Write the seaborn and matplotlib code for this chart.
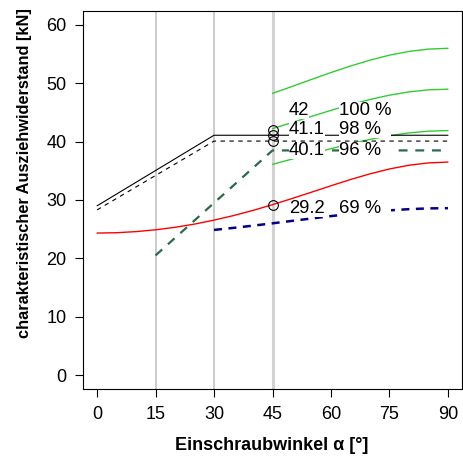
import numpy as np
import pandas as pd
import seaborn as sns
import matplotlib
matplotlib.use("Agg")
import matplotlib.pyplot as plt

# angles in degrees
ANG_FULL = [0, 5, 10, 15, 20, 25, 30, 35, 40, 45, 50, 55, 60, 65, 70, 75, 80, 85, 90]
ANG_45 = [45, 50, 55, 60, 65, 70, 75, 80, 85, 90]
ANG_30 = [30, 35, 40, 45, 50, 55, 60, 65, 70, 75, 80, 85, 90]

# red curve (0..90)
red_vals = [24.33, 24.39, 24.58, 24.89, 25.32, 25.87, 26.55, 27.33, 28.22, 29.20,
            30.25, 31.34, 32.44, 33.51, 34.48, 35.32, 35.96, 36.36, 36.50]
# green curves (45..90)
green_top = [48.28, 49.46, 50.67, 51.85, 52.97, 53.98, 54.83, 55.47, 55.87, 56.00]
green_mid = [42.24, 43.28, 44.33, 45.37, 46.35, 47.23, 47.97, 48.53, 48.88, 49.00]
green_low = [36.12, 37.01, 37.91, 38.80, 39.63, 40.39, 41.02, 41.50, 41.80, 41.90]
# blue dashed (30..90)
blue_vals = [24.87, 25.22, 25.60, 26.00, 26.42, 26.83, 27.24, 27.61, 27.95, 28.22,
             28.43, 28.56, 28.60]
# black polylines
black_x = [0, 30, 90]
black_solid = [29.0, 41.1, 41.1]
black_dash = [28.3, 40.1, 40.1]
# dark green dashed
dgreen_x = [15, 45, 90]
dgreen_vals = [20.5, 38.5, 38.5]

# marked points at 45 deg
pt_vals = [42.0, 41.1, 40.1, 29.2]
pt_labels = ["42", "41.1", "40.1", "29.2"]
pct_labels = ["100 %", "98 %", "96 %", "69 %"]
label_base = [44.6, 41.3, 37.7, 27.8]

vlines = [15, 30, 45]

sns.set_style("white")
plt.rcParams["font.family"] = ["Liberation Sans", "DejaVu Sans"]
plt.rcParams["text.color"] = "black"
plt.rcParams["axes.labelcolor"] = "black"

fig = plt.figure(figsize=(4.64, 4.59), dpi=100)
ax = fig.add_axes([83 / 464, 1 - 389 / 459, 379 / 464, 378 / 459])

for v in vlines:
    if v == 45:
        ax.axvline(v, color="#D3D3D3", lw=2.2, zorder=1)
    else:
        ax.axvline(v, color="#BEBEBE", lw=1.1, zorder=1)

GREEN = "#33CC33"
sns.lineplot(x=ANG_FULL, y=red_vals, ax=ax, color="red", lw=1.0)
for g in [green_top, green_mid, green_low]:
    sns.lineplot(x=ANG_45, y=g, ax=ax, color=GREEN, lw=1.0)
sns.lineplot(x=ANG_30, y=blue_vals, ax=ax, color="#00008B", lw=1.8,
             linestyle=(0, (3.2, 2.6)))
sns.lineplot(x=black_x, y=black_solid, ax=ax, color="black", lw=0.8)
sns.lineplot(x=black_x, y=black_dash, ax=ax, color="black", lw=0.8,
             linestyle=(0, (4, 4)))
sns.lineplot(x=dgreen_x, y=dgreen_vals, ax=ax, color="#2A6A4C", lw=1.6,
             linestyle=(0, (4, 3.5)))

ax.plot([45] * len(pt_vals), pt_vals, "o", mfc="none", mec="black",
        ms=7, mew=0.8, zorder=5)

for lab, pct, yb in zip(pt_labels, pct_labels, label_base):
    ax.text(49.2, yb, lab, fontsize=13.3, ha="left", va="baseline", color="black",
            bbox=dict(boxstyle="square,pad=0", fc="white", ec="none"), zorder=4)
    # trailing spaces widen the white box on the right, like the original
    ax.text(62.0, yb, pct + "  ", fontsize=13.3, ha="left", va="baseline",
            color="black",
            bbox=dict(boxstyle="square,pad=0", fc="white", ec="none"), zorder=4)

ax.set_xlim(-3.6, 93.6)
ax.set_ylim(-2.4, 62.4)
ax.set_xticks([0, 15, 30, 45, 60, 75, 90])
ax.set_yticks([0, 10, 20, 30, 40, 50, 60])
ax.tick_params(axis="both", direction="out", length=5.5, width=0.8, pad=6.5,
               labelsize=13, colors="black", bottom=True, left=True)
for s in ax.spines.values():
    s.set_visible(True)
    s.set_color("black")
    s.set_linewidth(0.8)

ax.set_xlabel("Einschraubwinkel α [°]", fontsize=13, fontweight="bold")
ax.set_ylabel("charakteristischer Ausziehwiderstand [kN]", fontsize=11.8,
              fontweight="bold")
ax.xaxis.set_label_coords(0.499, -0.126)
ax.yaxis.set_label_coords(-0.135, 0.570)

fig.savefig("out.png", dpi=100)
